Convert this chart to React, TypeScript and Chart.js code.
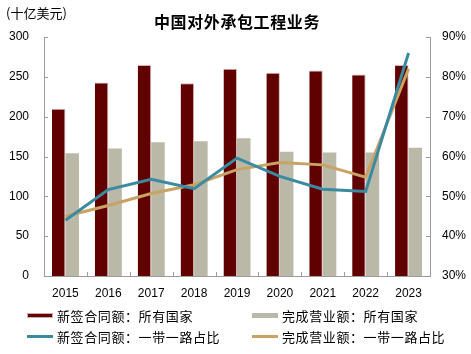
import React, { useEffect, useRef } from "react";
import { Chart, registerables } from "chart.js";

Chart.register(...registerables);

const years = ["2015", "2016", "2017", "2018", "2019", "2020", "2021", "2022", "2023"];
const newContractAll = [210, 243, 265, 242, 260, 255, 258, 253, 265];
const completedAll = [154, 160, 168, 169, 173, 156, 155, 155, 161];
const newContractBRShare = [44.0, 51.7, 54.3, 51.9, 59.6, 55.0, 51.8, 51.2, 86.0];
const completedBRShare = [45.0, 47.7, 50.7, 52.9, 56.7, 58.5, 57.9, 54.8, 82.0];

const seriesNames = [
  "新签合同额：所有国家",
  "完成营业额：所有国家",
  "新签合同额：一带一路占比",
  "完成营业额：一带一路占比",
];
const titleText = "中国对外承包工程业务";
const unitText = "(十亿美元)";

const C_DARK = "#600000";
const C_GREY = "#bab9a7";
const C_BLUE = "#3a8ba1";
const C_GOLD = "#c9a363";
const AXIS = "#9c9c9c";

const numFont = { family: "'Liberation Sans', Arial, sans-serif", size: 12 };
const cjk = "'Noto Sans CJK SC', sans-serif";

const innerTicks = {
  id: "innerTicks",
  afterDatasetsDraw(chart: any) {
    const ctx = chart.ctx;
    const a = chart.chartArea;
    ctx.save();
    ctx.strokeStyle = AXIS;
    ctx.lineWidth = 1;
    ctx.beginPath();
    const y = chart.scales.y;
    y.ticks.forEach((t: any) => {
      const py = Math.round(y.getPixelForValue(t.value)) + 0.5;
      ctx.moveTo(a.left, py);
      ctx.lineTo(a.left + 4, py);
    });
    const y1 = chart.scales.y1;
    y1.ticks.forEach((t: any) => {
      const py = Math.round(y1.getPixelForValue(t.value)) + 0.5;
      ctx.moveTo(a.right, py);
      ctx.lineTo(a.right - 4, py);
    });
    const n = years.length;
    const w = (a.right - a.left) / n;
    for (let i = 0; i <= n; i++) {
      const px = Math.round(a.left + i * w) + 0.5;
      ctx.moveTo(px, a.bottom);
      ctx.lineTo(px, a.bottom - 4);
    }
    ctx.stroke();
    ctx.restore();
  },
};

export default function App() {
  const ref = useRef<HTMLCanvasElement>(null);
  useEffect(() => {
    if (!ref.current) return;
    const chart = new Chart(ref.current, {
      type: "bar",
      data: {
        labels: years,
        datasets: [
          {
            type: "line",
            label: seriesNames[2],
            data: newContractBRShare,
            yAxisID: "y1",
            borderColor: C_BLUE,
            borderWidth: 3,
            pointRadius: 0,
            tension: 0,
            order: 0,
          } as any,
          {
            type: "line",
            label: seriesNames[3],
            data: completedBRShare,
            yAxisID: "y1",
            borderColor: C_GOLD,
            borderWidth: 3,
            pointRadius: 0,
            tension: 0,
            order: 1,
          } as any,
          {
            label: seriesNames[0],
            data: newContractAll,
            yAxisID: "y",
            backgroundColor: C_DARK,
            borderColor: "#d9b4b4",
            borderWidth: { top: 1, right: 1, left: 0, bottom: 0 },
            categoryPercentage: 0.63,
            barPercentage: 1,
            order: 2,
          },
          {
            label: seriesNames[1],
            data: completedAll,
            yAxisID: "y",
            backgroundColor: C_GREY,
            categoryPercentage: 0.63,
            barPercentage: 1,
            order: 3,
          },
        ],
      },
      options: {
        responsive: false,
        animation: false,
        layout: { padding: { top: 37, bottom: 54, left: 0, right: 0 } },
        plugins: { legend: { display: false }, title: { display: false }, tooltip: { enabled: false } },
        scales: {
          x: {
            grid: { display: false, drawTicks: false },
            border: { color: AXIS },
            ticks: { color: "#000", font: numFont, padding: 10, maxRotation: 0 },
            afterFit(s: any) { s.height = 24; },
          },
          y: {
            position: "left",
            min: 0,
            max: 300,
            grid: { display: false, drawTicks: false },
            border: { color: AXIS },
            ticks: { stepSize: 50, color: "#000", font: numFont, padding: 15 },
            afterFit(s: any) { s.width = 44; },
          },
          y1: {
            position: "right",
            min: 30,
            max: 90,
            grid: { display: false, drawTicks: false },
            border: { color: AXIS },
            ticks: { stepSize: 10, color: "#000", font: numFont, padding: 12, callback: (v: any) => v + "%" },
            afterFit(s: any) { s.width = 41; },
          },
        },
      },
      plugins: [innerTicks],
    });
    return () => chart.destroy();
  }, []);

  const legendItem = (i: number, x: number, y: number, kind: "bar" | "line", color: string, border?: string) => (
    <div key={i} style={{ position: "absolute", left: x, top: y - 10, height: 20, display: "flex", alignItems: "center" }}>
      <div
        style={{
          width: kind === "bar" ? 26 : 26,
          height: kind === "bar" ? 5 : 3,
          background: color,
          boxSizing: "border-box",
          border: border ? `1px solid ${border}` : undefined,
          marginRight: 4,
        }}
      />
      <span style={{ fontFamily: cjk, fontSize: 13, letterSpacing: 0.6, color: "#000", whiteSpace: "nowrap" }}>
        {seriesNames[i]}
      </span>
    </div>
  );

  return (
    <div style={{ position: "absolute", left: 0, top: 0, width: 471, height: 354, background: "#fff" }}>
      <canvas ref={ref} width={471} height={354} style={{ position: "absolute", left: 0, top: 0 }} />
      <div style={{ position: "absolute", left: 6, top: 3, fontFamily: cjk, fontSize: 13, lineHeight: "20px", color: "#000" }}>
        {unitText}
      </div>
      <div
        style={{
          position: "absolute",
          left: 0,
          width: 474,
          top: 10,
          textAlign: "center",
          fontFamily: cjk,
          fontSize: 16,
          fontWeight: "bold",
          letterSpacing: 0.6,
          lineHeight: "22px",
          color: "#000",
        }}
      >
        {titleText}
      </div>
      {legendItem(0, 27, 315, "bar", C_DARK, "#d4a9a9")}
      {legendItem(1, 252, 315, "bar", C_GREY)}
      {legendItem(2, 27, 336, "line", C_BLUE)}
      {legendItem(3, 252, 336, "line", C_GOLD)}
    </div>
  );
}
